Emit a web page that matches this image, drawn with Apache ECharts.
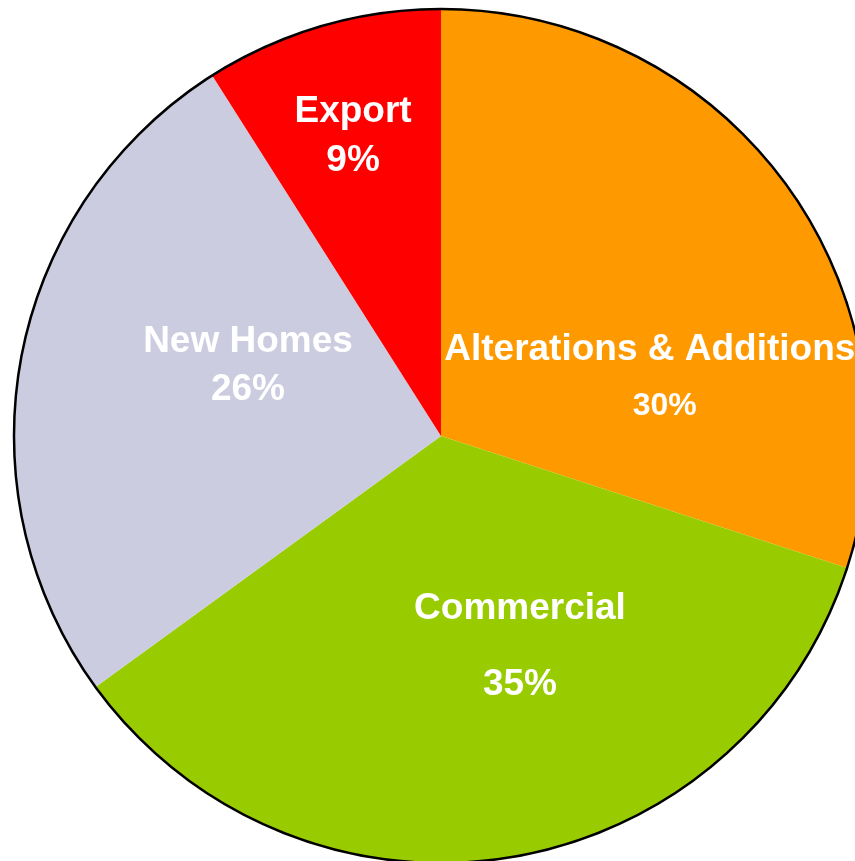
<!DOCTYPE html>
<html>
<head>
<meta charset="utf-8">
<script src="https://cdn.jsdelivr.net/npm/echarts@6/dist/echarts.min.js"></script>
<style>
  html, body { margin: 0; padding: 0; background: #fff; }
  #chart { width: 855px; height: 861px; }
</style>
</head>
<body>
<div id="chart"></div>
<script>
// Market segments and their share of sales (percent)
const categories = ['Alterations & Additions', 'Commercial', 'New Homes', 'Export'];
const shares = [30, 35, 26, 9];

// Slice colours, in category order
const colors = ['#FF9900', '#99CC00', '#CCCCE0', '#FF0000'];

// Label block centres, as offsets from the pie centre in units of the radius
const labelOffsets = [[0.489, -0.136], [0.185, 0.494], [-0.452, -0.164], [-0.206, -0.703]];
// Line spacing of each two-line label
const labelLineHeights = [57, 76, 48, 49];
// Size of the percentage line and its horizontal nudge (left padding)
const pctFontSizes = [32, 37, 37, 37];
const pctPadLeft = [30, 0, 0, 0];

const CX = 441, CY = 436, R = 427;

const chart = echarts.init(document.getElementById('chart'));

const pieData = categories.map((name, i) => ({
  name: name,
  value: shares[i],
  itemStyle: { color: colors[i] },
  label: {
    rich: {
      n: { fontSize: 37, lineHeight: labelLineHeights[i] },
      p: { fontSize: pctFontSizes[i], lineHeight: labelLineHeights[i], padding: [0, 0, 0, pctPadLeft[i]] }
    }
  }
}));

chart.setOption({
  animation: false,
  series: [
    {
      type: 'pie',
      center: [CX, CY],
      radius: [0, R],
      startAngle: 90,
      clockwise: true,
      avoidLabelOverlap: false,
      data: pieData,
      itemStyle: { borderWidth: 0 },
      label: {
        show: true,
        position: 'inside',
        formatter: p => '{n|' + p.name + '}\n{p|' + p.value + '%}',
        color: '#ffffff',
        fontFamily: 'Liberation Sans, Arial, sans-serif',
        fontWeight: 'bold',
        fontSize: 37,
        align: 'center',
        verticalAlign: 'middle'
      },
      labelLine: { show: false },
      labelLayout: function (params) {
        const o = labelOffsets[params.dataIndex];
        return { x: CX + o[0] * R, y: CY + o[1] * R, align: 'center', verticalAlign: 'middle' };
      },
      emphasis: { disabled: true }
    },
    {
      // Outline around the whole pie
      type: 'pie',
      silent: true,
      center: [CX, CY],
      radius: [0, R],
      data: [{ value: 1, name: '' }],
      itemStyle: { color: 'rgba(0,0,0,0)', borderColor: '#000000', borderWidth: 2.5 },
      label: { show: false },
      labelLine: { show: false },
      emphasis: { disabled: true }
    }
  ]
});
</script>
</body>
</html>
